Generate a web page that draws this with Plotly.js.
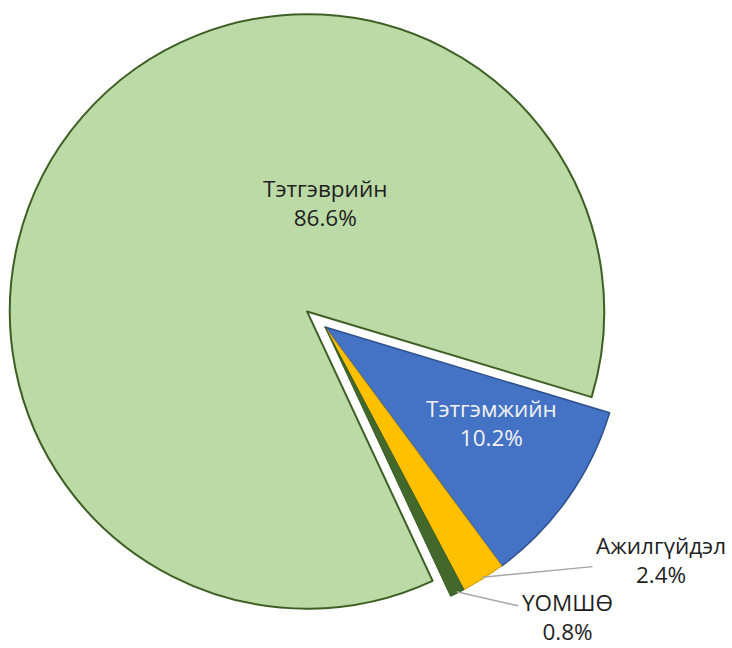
<!DOCTYPE html>
<html>
<head>
<meta charset="utf-8">
<script src="https://cdn.plot.ly/plotly-3.0.1.min.js"></script>
<style>html,body{margin:0;padding:0;background:#fff;}#chart{width:732px;height:648px;}</style>
</head>
<body>
<div id="chart"></div>
<script>
// ---- data ----
const labels = ['Тэтгэврийн', 'Тэтгэмжийн', 'Ажилгүйдэл', 'ҮОМШӨ'];
const values = [86.6, 10.2, 2.4, 0.8];
const pctText = ['86.6%', '10.2%', '2.4%', '0.8%'];

// ---- style ----
const fillColors = ['#BBDAA6', '#4472C4', '#FFC000', '#43682B'];
const lineColors = ['#3E5F24', '#2F528F', '#C99700', '#3A5C24'];
const lineWidths = [2, 1.5, 1, 1];
const pulls = [0.08, 0, 0, 0];
const rotation = 155;
const W = 732, H = 648;
const domX = [4 / W, 646 / W];
const domY = [0, 642 / H];

// label placement (pixel centres) and which ones use leader lines
const labelPos = [[325, 203], [491, 423], [661, 560], [567, 617]];
const useLeader = [false, false, true, true];
const textColors = ['#1f1f1f', '#F2F2F2', '#1f1f1f', '#1f1f1f'];
const fontSize = 22.5;

// geometry derived the same way Plotly lays out a pie
const wBox = W * (domX[1] - domX[0]);
const hBox = H * (domY[1] - domY[0]);
const cx = W * (domX[0] + domX[1]) / 2;
const cy = H * (1 - domY[0]) - hBox / 2;
const r = Math.min(wBox, hBox) / (2 * (1 + Math.max(...pulls)));
const total = values.reduce((a, b) => a + b, 0);

const annotations = [];
let cum = 0;
values.forEach((v, i) => {
  const midDeg = rotation + (cum + v / 2) / total * 360;
  cum += v;
  const a = midDeg * Math.PI / 180;
  const txt = labels[i] + '<br>' + pctText[i];
  const [lx, ly] = labelPos[i];
  const font = {family: 'Open Sans, Noto Sans, sans-serif', size: fontSize, color: textColors[i]};
  if (useLeader[i]) {
    const tipX = cx + r * 0.995 * Math.sin(a);
    const tipY = cy - r * 0.995 * Math.cos(a);
    annotations.push({
      x: tipX / W, y: 1 - tipY / H, xref: 'paper', yref: 'paper',
      ax: lx - tipX, ay: ly - tipY, axref: 'pixel', ayref: 'pixel',
      text: txt, showarrow: true, arrowhead: 0, arrowwidth: 1.5,
      arrowcolor: '#A6A6A6', standoff: 0, startstandoff: 2,
      xanchor: 'center', yanchor: 'middle', align: 'center', font: font
    });
  } else {
    annotations.push({
      x: lx / W, y: 1 - ly / H, xref: 'paper', yref: 'paper',
      text: txt, showarrow: false,
      xanchor: 'center', yanchor: 'middle', align: 'center', font: font
    });
  }
});

const trace = {
  type: 'pie',
  labels: labels,
  values: values,
  sort: false,
  direction: 'clockwise',
  rotation: rotation,
  pull: pulls,
  textinfo: 'none',
  hoverinfo: 'label+percent',
  domain: {x: domX, y: domY},
  marker: {colors: fillColors, line: {color: lineColors, width: lineWidths}}
};

const layout = {
  width: W, height: H,
  margin: {l: 0, r: 0, t: 0, b: 0},
  paper_bgcolor: '#ffffff',
  showlegend: false,
  annotations: annotations
};

Plotly.newPlot('chart', [trace], layout, {displayModeBar: false, staticPlot: true});
</script>
</body>
</html>
